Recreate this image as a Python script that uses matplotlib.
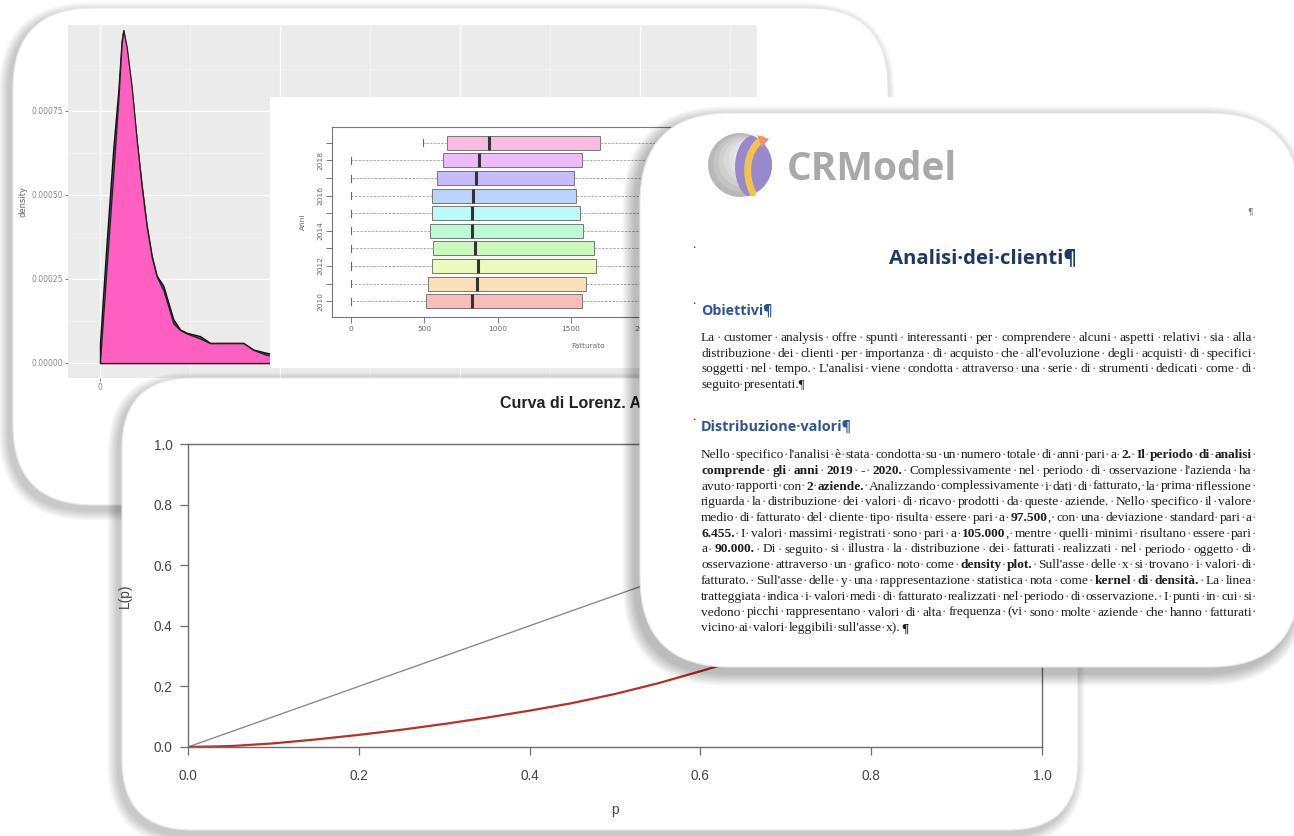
import matplotlib
matplotlib.use('Agg')
import matplotlib.pyplot as plt
from matplotlib.patches import FancyBboxPatch, Circle, Ellipse, Polygon, PathPatch
from matplotlib.path import Path
import colorsys

# ---------------- data ----------------
# density plot (Fatturato vs density) - top (pink) layer and one layer beneath
dens_x = [0, 185, 370, 509, 602, 648, 741, 880, 1019, 1157, 1296, 1435, 1574, 1759,
          1898, 2037, 2222, 2407, 2778, 3056, 3519, 3981, 4259, 4630, 5500, 7000,
          10000, 15000, 18500]
dens_top = [0.000004, 0.000287, 0.000565, 0.000783, 0.000951, 0.000991, 0.000941,
            0.000822, 0.000664, 0.000525, 0.000406, 0.000316, 0.000257, 0.000217,
            0.000168, 0.000118, 0.000098, 0.000088, 0.000073, 0.000059, 0.000059,
            0.000059, 0.000039, 0.000024, 0.000015, 0.000008, 0.000003, 0.000001,
            0.0]
dens_under = [0.00006, 0.00036, 0.00064, 0.00081, 0.00096, 0.00099, 0.00093,
              0.00081, 0.00066, 0.00053, 0.00041, 0.00032, 0.00026, 0.00023,
              0.00018, 0.00013, 0.00010, 0.00009, 0.00008, 0.00006, 0.00006,
              0.00006, 0.00004, 0.00003, 0.00002, 0.00001, 0.000004, 0.000001,
              0.0]
dens_yticks = [0.0, 0.00025, 0.00050, 0.00075]
dens_ylabels = ['0.00000', '0.00025', '0.00050', '0.00075']

# boxplot of Fatturato by year
years = ['2010', '2011', '2012', '2013', '2014', '2015', '2016', '2017', '2018', '2019']
box_q1 = [509, 527, 552, 557, 539, 555, 555, 584, 625, 657]
box_med = [823, 861, 866, 848, 827, 825, 834, 850, 875, 939]
box_q3 = [1577, 1602, 1670, 1659, 1584, 1561, 1534, 1520, 1577, 1698]
box_lo = [0, 0, 0, 0, 0, 0, 0, 0, 0, 493]
box_hi = [3050, 3120, 3240, 3180, 3010, 2960, 2900, 2880, 3000, 3150]
box_xticks = [0, 500, 1000, 1500, 2000, 2500, 3000]

# Lorenz curve
lor_p = [0.0, 0.05, 0.1, 0.15, 0.2, 0.25, 0.3, 0.35, 0.4, 0.45, 0.5, 0.55, 0.6,
         0.65, 0.7, 0.75, 0.8, 0.85, 0.9, 0.95, 1.0]
lor_L = [0.0, 0.003, 0.012, 0.025, 0.040, 0.057, 0.076, 0.097, 0.120, 0.145, 0.175,
         0.210, 0.250, 0.292, 0.340, 0.392, 0.460, 0.540, 0.640, 0.780, 1.0]
eq_p = [0.0, 1.0]
eq_L = [0.0, 1.0]
lor_ticks = [0.0, 0.2, 0.4, 0.6, 0.8, 1.0]

# document text
TITLE_DOC = "Analisi·dei·clienti¶"
H_OBI = "Obiettivi¶"
H_DIST = "Distribuzione·valori¶"
OBI_LINES = [
    [("La·customer·analysis·offre·spunti·interessanti·per·comprendere·alcuni·aspetti·relativi·sia·alla·", False)],
    [("distribuzione·dei·clienti·per·importanza·di·acquisto·che·all'evoluzione·degli·acquisti·di·specifici·", False)],
    [("soggetti·nel·tempo.·L'analisi·viene·condotta·attraverso·una·serie·di·strumenti·dedicati·come·di·", False)],
    [("seguito·presentati.¶", False)],
]
DIST_LINES = [
    [("Nello·specifico·l'analisi·è·stata·condotta·su·un·numero·totale·di·anni·pari·a·", False),
     ("2.·Il·periodo·di·analisi·", True)],
    [("comprende·gli·anni·2019·-·2020.", True),
     ("·Complessivamente·nel·periodo·di·osservazione·l'azienda·ha·", False)],
    [("avuto·rapporti·con·", False), ("2·aziende.", True),
     ("·Analizzando·complessivamente·i·dati·di·fatturato,·la·prima·riflessione·", False)],
    [("riguarda·la·distribuzione·dei·valori·di·ricavo·prodotti·da·queste·aziende.·Nello·specifico·il·valore·", False)],
    [("medio·di·fatturato·del·cliente·tipo·risulta·essere·pari·a·", False), ("97.500", True),
     (",·con·una·deviazione·standard·pari·a·", False)],
    [("6.455.", True), ("·I·valori·massimi·registrati·sono·pari·a·", False), ("105.000", True),
     (",·mentre·quelli·minimi·risultano·essere·pari·", False)],
    [("a·", False), ("90.000.", True),
     ("·Di·seguito·si·illustra·la·distribuzione·dei·fatturati·realizzati·nel·periodo·oggetto·di·", False)],
    [("osservazione·attraverso·un·grafico·noto·come·", False), ("density·plot.", True),
     ("·Sull'asse·delle·x·si·trovano·i·valori·di·", False)],
    [("fatturato.·Sull'asse·delle·y·una·rappresentazione·statistica·nota·come·", False),
     ("kernel·di·densità.", True), ("·La·linea·", False)],
    [("tratteggiata·indica·i·valori·medi·di·fatturato·realizzati·nel·periodo·di·osservazione.·I·punti·in·cui·si·", False)],
    [("vedono·picchi·rappresentano·valori·di·alta·frequenza·(vi·sono·molte·aziende·che·hanno·fatturati·", False)],
    [("vicino·ai·valori·leggibili·sull'asse·x).", False), ("¶", True)],
]

# ---------------- figure ----------------
W, H = 1294, 836
fig = plt.figure(figsize=(W / 100, H / 100), dpi=100)
fig.patch.set_facecolor('white')
renderer = fig.canvas.get_renderer()


def frac(x0, y0, x1, y1):
    return [x0 / W, 1 - y1 / H, (x1 - x0) / W, (y1 - y0) / H]


def overlay(z):
    ax = fig.add_axes([0, 0, 1, 1], zorder=z)
    ax.set_xlim(0, W)
    ax.set_ylim(H, 0)
    ax.axis('off')
    ax.patch.set_alpha(0)
    return ax


def card(ax, x0, y0, x1, y1, r, dx=-4, dy=5, n=8, step=1.3, a=0.028):
    for i in range(n, 0, -1):
        s = i * step
        ax.add_patch(FancyBboxPatch((x0 - s + dx, y0 - s + dy), (x1 - x0) + 2 * s, (y1 - y0) + 2 * s,
                                    boxstyle=f"round,pad=0,rounding_size={r + s}",
                                    fc='#000000', ec='none', alpha=a))
    ax.add_patch(FancyBboxPatch((x0, y0), x1 - x0, y1 - y0,
                                boxstyle=f"round,pad=0,rounding_size={r}",
                                fc='white', ec='#e8e8e8', lw=0.8))


# ---------- back card ----------
bg = overlay(0)
card(bg, 13, 8, 888, 505, 80)

# density plot (ggplot style)
axd = fig.add_axes(frac(68, 25, 757, 378), zorder=1)
px = 5000 / 180.0
axd.set_xlim((68 - 100) * px, (757 - 100) * px)
axd.set_ylim(-15 / 84 * 0.00025, (363 - 25) / 84 * 0.00025)
axd.set_facecolor('#ebebeb')
for s in axd.spines.values():
    s.set_visible(False)
axd.set_xticks([0, 5000, 10000, 15000])
axd.set_xticks([2500, 7500, 12500, 17500], minor=True)
axd.set_xticklabels(['0', '', '', ''])
axd.set_yticks(dens_yticks)
axd.set_yticks([0.000125, 0.000375, 0.000625, 0.000875], minor=True)
axd.set_yticklabels(dens_ylabels)
axd.grid(True, which='major', color='white', lw=0.9)
axd.grid(True, which='minor', color='#f6f6f6', lw=0.5)
axd.set_axisbelow(True)
axd.tick_params(which='major', length=2, width=0.6, color='#666', labelsize=5.5,
                labelcolor='#888', pad=1.5)
axd.tick_params(which='minor', length=0)
axd.fill_between(dens_x, dens_under, color='#2a6f9b', ec='#101010', lw=1.0, zorder=2)
axd.fill_between(dens_x, dens_top, color='#ff5fc0', ec='#202020', lw=0.9, zorder=3)
axd.set_ylabel('density', fontsize=6, color='#666', labelpad=3)

# boxplot "image"
axbi = fig.add_axes(frac(270, 97, 900, 368), zorder=2)
axbi.set_facecolor('white')
axbi.set_xticks([])
axbi.set_yticks([])
for s in axbi.spines.values():
    s.set_visible(False)

axb = fig.add_axes(frac(332, 127, 845, 317), zorder=3)
axb.set_facecolor('white')
stats = []
for i in range(len(years)):
    stats.append(dict(med=box_med[i], q1=box_q1[i], q3=box_q3[i],
                      whislo=box_lo[i], whishi=box_hi[i], fliers=[], label=years[i]))
cols = [colorsys.hsv_to_rgb(i / 10.0, 0.25, 0.98) for i in range(10)]
bp = axb.bxp(stats, positions=range(1, 11), widths=0.8, orientation='horizontal',
             patch_artist=True, showfliers=False, capwidths=0.4,
             boxprops=dict(edgecolor='#777777', lw=0.7),
             whiskerprops=dict(color='#a0a0a0', lw=0.6, linestyle=(0, (3, 1.5))),
             capprops=dict(color='#666', lw=0.8),
             medianprops=dict(color='#333', lw=2.2))
for patch, c in zip(bp['boxes'], cols):
    patch.set_facecolor(c)
axb.set_xlim(-130, 3370)
axb.set_ylim(0.1, 10.9)
axb.set_xticks(box_xticks)
axb.set_xticklabels([str(v) for v in box_xticks])
axb.set_yticks(range(1, 11))
axb.set_yticklabels([y if i % 2 == 0 else '' for i, y in enumerate(years)], rotation=90, va='center')
axb.tick_params(length=4.5, width=0.6, color='#666', labelsize=5.3, labelcolor='#666', pad=2)
for s in axb.spines.values():
    s.set_color('#777')
    s.set_linewidth(0.8)
axb.set_xlabel('Fatturato', fontsize=5.3, color='#666', labelpad=8)
axb.set_ylabel('Anni', fontsize=5.3, color='#666', labelpad=8)

# ---------- Lorenz card ----------
lc = overlay(4)
card(lc, 122, 378, 1078, 830, 70)

axl = fig.add_axes(frac(188, 444, 1042, 747), zorder=5)
axl.set_facecolor('white')
axl.plot(eq_p, eq_L, color='#8c8c8c', lw=1.0)
axl.plot(lor_p, lor_L, color='#b8302a', lw=1.6)
axl.set_xlim(0, 1)
axl.set_ylim(0, 1)
axl.set_xticks(lor_ticks)
axl.set_yticks(lor_ticks)
axl.set_xticklabels([f"{v:.1f}" for v in lor_ticks])
axl.set_yticklabels([f"{v:.1f}" for v in lor_ticks])
for s in axl.spines.values():
    s.set_color('#6e6e6e')
    s.set_linewidth(1.0)
axl.tick_params(axis='both', length=6, width=0.9, color='#6e6e6e', labelsize=9.8,
                labelcolor='#444')
axl.tick_params(axis='x', pad=10)
axl.tick_params(axis='y', pad=5)
axl.set_xlabel('p', fontsize=9.8, color='#444', labelpad=14, family='Liberation Sans')
axl.set_ylabel('L(p)', fontsize=9.8, color='#444', labelpad=16, family='Liberation Sans')
axl.set_title('Curva di Lorenz. Aziende 2020', fontsize=11.5, fontweight='bold',
              color='#222', pad=26, family='Liberation Sans')
for t in axl.get_xticklabels() + axl.get_yticklabels():
    t.set_family('Liberation Sans')

# ---------- right (document) card ----------
rc = overlay(10)
card(rc, 640, 113, 1300, 667, 90, dx=-5, dy=6, n=9, step=1.4, a=0.03)


def text_w(t):
    return t.get_window_extent(renderer).width


def fit_text(ax, x0, x1, y, s, base=10, **kw):
    t = ax.text(x0, y, s, fontsize=base, ha='left', va='center', **kw)
    w = text_w(t)
    t.set_fontsize(base * (x1 - x0) / w)
    return t


# logo
cx, cy, R = 740, 165, 32
shades = ['#b8b8b8', '#c4c4c4', '#cfcfcf', '#d9d9d9', '#e2e2e2', '#eaeaea', '#f1f1f1']
for i, c in enumerate(shades):
    rc.add_patch(Circle((cx + i * 1.6, cy - i * 1.6), R - i * 3.6, fc=c, ec='none'))
clip = Circle((cx, cy), R, transform=rc.transData)
purple = Ellipse((cx + 15, cy + 2), 40, 64, fc='#9a88cc', ec='none')
rc.add_patch(purple)
purple.set_clip_path(clip)
yel = Path([(cx + 13, cy + 28), (cx + 4, cy + 10), (cx + 6, cy - 14), (cx + 22, cy - 26)],
           [Path.MOVETO, Path.CURVE4, Path.CURVE4, Path.CURVE4])
rc.add_patch(PathPatch(yel, fc='none', ec='#f2c24e', lw=5, capstyle='round'))
rc.add_patch(Polygon([(cx + 17, cy - 30), (cx + 29, cy - 26), (cx + 22, cy - 18)],
                     closed=True, fc='#ee8f7a', ec='none'))

fit_text(rc, 787, 957, 170, 'CRModel', color='#a9a9a9', family='Open Sans', fontweight='bold')
rc.text(1250, 212, '¶', fontsize=6, color='#777', ha='center', va='center')
for yb in (248, 303, 420):
    rc.text(694, yb, '•', fontsize=4, color='#333', ha='center', va='center')

fit_text(rc, 889, 1078, 258, TITLE_DOC, color='#1f3864', family='Open Sans', fontweight='bold')
fit_text(rc, 701, 773, 311, H_OBI, color='#2f5597', family='Open Sans', fontweight='bold')
fit_text(rc, 701, 852, 427, H_DIST, color='#2f5597', family='Open Sans', fontweight='bold')

PAR_FAMILY = 'Liberation Serif'
PAR_COLOR = '#1e1e1e'


def words_of(line):
    """Split a line into words; each word is a list of (text, bold) pieces."""
    words, cur = [], []
    for seg, bold in line:
        for ch in seg:
            if ch == '·':
                words.append(cur)
                cur = []
            else:
                if cur and cur[-1][1] == bold:
                    cur[-1] = (cur[-1][0] + ch, bold)
                else:
                    cur.append((ch, bold))
    words.append(cur)
    trailing = False
    if not words[-1]:
        words = words[:-1]
        trailing = True
    return words, trailing


def mk(ax, s, fs, bold, color):
    return ax.text(0, 0, s, fontsize=fs, ha='left', va='center', color=color,
                   family=PAR_FAMILY, fontweight='bold' if bold else 'normal')


def para(ax, lines, x0, x1, y0, dy, fs, color=PAR_COLOR):
    dot = mk(ax, '·', fs, False, color)
    dw = text_w(dot)
    dot.remove()
    for k, line in enumerate(lines):
        y = y0 + k * dy
        words, trailing = words_of(line)
        wobjs, wws = [], []
        for w in words:
            objs = []
            tot = 0
            for s, b in w:
                t = mk(ax, s, fs, b, color)
                objs.append((t, text_w(t)))
                tot += objs[-1][1]
            wobjs.append(objs)
            wws.append(tot)
        last = (k == len(lines) - 1)
        ng = len(words) - 1
        gap = dw if (last or ng < 1) else (x1 - x0 - sum(wws)) / ng
        x = x0
        for i, (objs, ww) in enumerate(zip(wobjs, wws)):
            xx = x
            for t, w in objs:
                t.set_position((xx, y))
                xx += w
            x += ww
            if i < ng:
                ax.text(x + gap / 2 - 0.8, y, '·', fontsize=fs, ha='center', va='center',
                        color='#555', family=PAR_FAMILY)
                x += gap
        if trailing:
            ax.text(x + dw / 2, y, '·', fontsize=fs, ha='center', va='center',
                    color='#555', family=PAR_FAMILY)


def natural_width(lines, fs):
    dot = mk(rc, '·', fs, False, 'k')
    dw = text_w(dot)
    dot.remove()
    mx = 0
    for line in lines:
        words, _ = words_of(line)
        tot = dw * (len(words) - 1)
        for w in words:
            for s, b in w:
                t = mk(rc, s, fs, b, 'k')
                tot += text_w(t)
                t.remove()
        mx = max(mx, tot)
    return mx


nw = natural_width(OBI_LINES + DIST_LINES, 10)
fs_par = 10 * 551 / nw
para(rc, OBI_LINES, 701, 1252, 338, 15.7, fs_par)
para(rc, DIST_LINES, 701, 1252, 455, 15.75, fs_par)

fig.savefig('out.png', dpi=100)
